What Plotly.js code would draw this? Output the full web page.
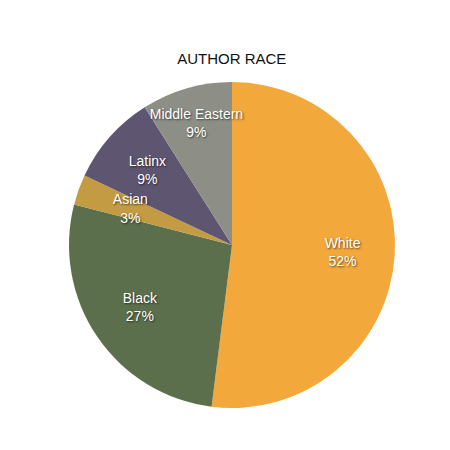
<!DOCTYPE html>
<html>
<head>
<meta charset="utf-8">
<script src="https://cdn.plot.ly/plotly-3.0.1.min.js"></script>
<style>
  html, body { margin: 0; padding: 0; background: #fff; }
  #chart { width: 450px; height: 450px; }
</style>
</head>
<body>
<div id="chart"></div>
<script>
const labels = ["White", "Black", "Asian", "Latinx", "Middle Eastern"];
const shares = [52, 27, 3, 9, 9];
const colors = ["#F3A83B", "#5C6F4C", "#C39B42", "#5E5570", "#8D8F87"];

const font = "Liberation Sans, Arial, sans-serif";

// solid slices, no text
const slices = {
    type: "pie",
    labels: labels,
    values: shares,
    sort: false,
    direction: "clockwise",
    rotation: 0,
    marker: { colors: colors, line: { width: 0 } },
    textinfo: "none",
    hoverinfo: "label+percent"
};

// transparent rings drawn over the pie, used only to place the labels
// (narrow slices get a smaller ring so their labels sit closer in)
function labelRing(show, scale) {
    const lo = 0.5 - scale / 2, hi = 0.5 + scale / 2;
    return {
        type: "pie",
        labels: labels,
        values: shares,
        sort: false,
        direction: "clockwise",
        rotation: 0,
        hole: 0.36,
        domain: { x: [lo, hi], y: [lo, hi] },
        marker: { colors: labels.map(() => "rgba(0,0,0,0)"), line: { width: 0 } },
        texttemplate: labels.map(l => show.includes(l) ? "%{label}<br>%{percent:.0%}" : ""),
        textposition: "inside",
        insidetextorientation: "horizontal",
        textfont: {
            family: font,
            size: 14,
            color: "#ffffff",
            shadow: "1px 1px 2px rgba(0,0,0,0.6)"
        },
        hoverinfo: "skip"
    };
}

const layout = {
    width: 450,
    height: 450,
    title: {
        text: "AUTHOR RACE",
        font: { family: font, size: 15, color: "#111" },
        x: 0.515,
        xanchor: "center",
        y: 0.87,
        yanchor: "middle"
    },
    uniformtext: { mode: "show", minsize: 14 },
    margin: { l: 69, r: 55, t: 82, b: 42 },
    showlegend: false,
    paper_bgcolor: "#ffffff",
    plot_bgcolor: "#ffffff"
};

const traces = [
    slices,
    labelRing(["White", "Black", "Middle Eastern"], 1),
    labelRing(["Latinx"], 0.885),
    labelRing(["Asian"], 0.725)
];

Plotly.newPlot("chart", traces, layout, { displayModeBar: false, staticPlot: true });
</script>
</body>
</html>
